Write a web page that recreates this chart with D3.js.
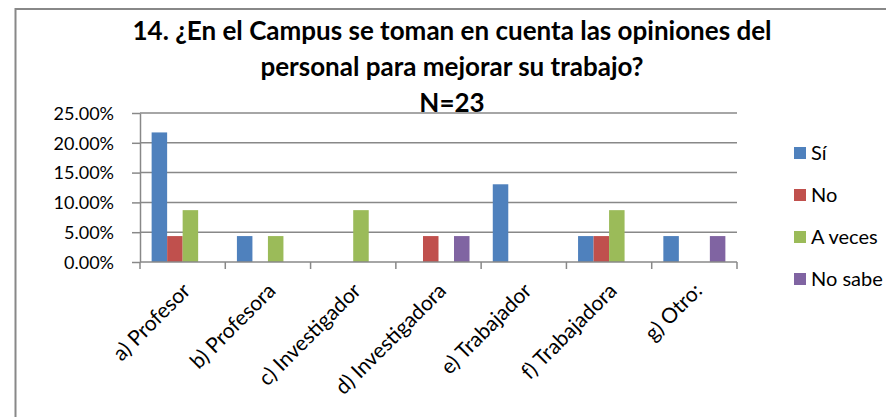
<!DOCTYPE html>
<html>
<head>
<meta charset="utf-8">
<script src="https://cdn.jsdelivr.net/npm/d3@7"></script>
<style>
  body { margin: 0; background: #fff; }
  svg { display: block; font-family: Lato, "Open Sans", sans-serif; }
</style>
</head>
<body>
<svg id="chart" width="886" height="417"></svg>
<script>
// datos: N=23, porcentajes por categoria
const categories = ["a) Profesor", "b) Profesora", "c) Investigador", "d) Investigadora",
                    "e) Trabajador", "f) Trabajadora", "g) Otro:"];
const seriesNames = ["Sí", "No", "A veces", "No sabe"];
const si      = [0.2174, 0.0435, 0,      0,      0.1304, 0.0435, 0.0435];
const no      = [0.0435, 0,      0,      0.0435, 0,      0.0435, 0];
const aVeces  = [0.0870, 0.0435, 0.0870, 0,      0,      0.0870, 0];
const noSabe  = [0,      0,      0,      0.0435, 0,      0,      0.0435];
const yTicks = [0, 0.05, 0.10, 0.15, 0.20, 0.25];
const titleLines = ["14. ¿En el Campus se toman en cuenta las opiniones del",
                    "personal para mejorar su trabajo?", "N=23"];
const colors = ["#4F81BD", "#C0504D", "#9BBB59", "#8064A2"];

const values = [si, no, aVeces, noSabe];
const data = categories.map((c, i) => ({
  cat: c,
  vals: seriesNames.map((s, j) => ({ key: s, v: values[j][i] }))
}));

const svg = d3.select("#chart");
const gray = "#888888";

// marco del grafico
svg.append("path")
  .attr("d", "M15.5,417 L15.5,9 L886,9")
  .attr("fill", "none").attr("stroke", gray).attr("stroke-width", 2);

const plot = { left: 140, right: 737, top: 113, bottom: 262 };

const x = d3.scaleBand().domain(categories).range([plot.left, plot.right]);
const xs = d3.scaleBand().domain(seriesNames).range([0, x.bandwidth()]).paddingOuter(0.75);
const y = d3.scaleLinear().domain([0, 0.25]).range([plot.bottom, plot.top]);

// lineas de cuadricula
svg.append("g").selectAll("line")
  .data(yTicks.slice(1))
  .join("line")
  .attr("x1", plot.left).attr("x2", plot.right)
  .attr("y1", d => y(d)).attr("y2", d => y(d))
  .attr("stroke", gray).attr("stroke-width", 1.5);

// eje y
const yAxis = svg.append("g")
  .attr("transform", "translate(" + plot.left + ",0)")
  .call(d3.axisLeft(y).tickValues(yTicks).tickFormat(d3.format(".2%")).tickSize(8).tickSizeOuter(0));
yAxis.select(".domain").attr("stroke", gray).attr("stroke-width", 1.5);
yAxis.selectAll(".tick line").attr("stroke", gray).attr("stroke-width", 1.5);
yAxis.selectAll(".tick text")
  .attr("x", -26).attr("dy", "0.35em")
  .attr("font-size", 18).attr("fill", "#000")
  .attr("font-family", "Lato");

// barras
const groups = svg.append("g").selectAll("g")
  .data(data)
  .join("g")
  .attr("transform", d => "translate(" + x(d.cat) + ",0)");

groups.selectAll("rect")
  .data(d => d.vals)
  .join("rect")
  .attr("x", d => xs(d.key))
  .attr("width", xs.bandwidth())
  .attr("y", d => y(d.v))
  .attr("height", d => y(0) - y(d.v))
  .attr("fill", (d, i) => colors[i]);

// eje x
const xAxis = svg.append("g")
  .attr("transform", "translate(0," + plot.bottom + ")");
xAxis.append("line")
  .attr("x1", plot.left).attr("x2", plot.right)
  .attr("stroke", gray).attr("stroke-width", 1.5);
xAxis.selectAll(".tk")
  .data(categories.concat([null]))
  .join("line")
  .attr("class", "tk")
  .attr("x1", (d, i) => plot.left + i * x.step())
  .attr("x2", (d, i) => plot.left + i * x.step())
  .attr("y1", 0).attr("y2", 7)
  .attr("stroke", gray).attr("stroke-width", 1.5);
xAxis.selectAll("text")
  .data(categories)
  .join("text")
  .attr("transform", d => "translate(" + (x(d) + x.bandwidth() / 2 + 9) + ",30) rotate(-45)")
  .attr("text-anchor", "end")
  .attr("font-size", 21)
  .text(d => d);

// titulo
svg.append("g").selectAll("text")
  .data(titleLines)
  .join("text")
  .attr("x", 452)
  .attr("y", (d, i) => 40 + i * 36)
  .attr("text-anchor", "middle")
  .attr("font-weight", "bold")
  .attr("font-size", 26)
  .text(d => d);

// leyenda
const legend = svg.append("g").selectAll("g")
  .data(seriesNames)
  .join("g")
  .attr("transform", (d, i) => "translate(794," + (153 + i * 42) + ")");
legend.append("rect")
  .attr("x", 0).attr("y", -6).attr("width", 12).attr("height", 12)
  .attr("fill", (d, i) => colors[i]);
legend.append("text")
  .attr("x", 17).attr("dy", "0.35em")
  .attr("font-size", 20)
  .text(d => d);
</script>
</body>
</html>
